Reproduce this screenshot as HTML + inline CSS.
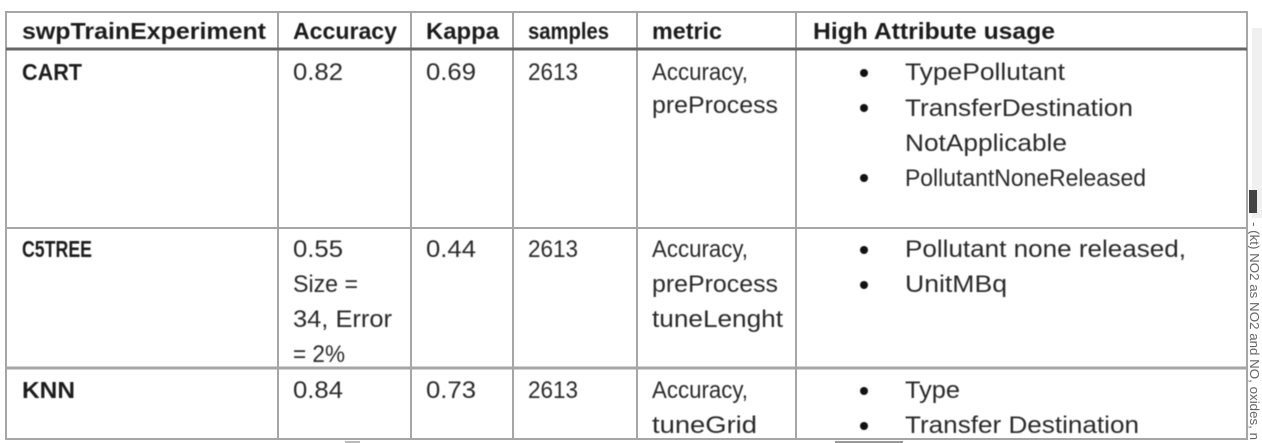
<!DOCTYPE html>
<html lang="en">
<head>
<meta charset="utf-8">
<title>swpTrainExperiment results table</title>
<style>
html,body{margin:0;padding:0;width:1262px;height:443px;overflow:hidden;background:#fff}
svg{display:block}
text{font-family:"Liberation Sans",sans-serif;font-size:24px;fill:#2a2a2a}
.b{font-weight:bold;font-size:23px;fill:#1c1c1c}
.g line{stroke:#a6a6a6;stroke-width:2}
.soft{filter:blur(.4px)}
</style>
</head>
<body>
<svg width="1262" height="443" viewBox="0 0 1262 443" xmlns="http://www.w3.org/2000/svg">
<rect x="1252" y="28" width="10" height="190" fill="#f0f0f0"/>
<rect x="1249" y="190" width="8" height="23" fill="#444"/>
<text transform="translate(1250,222) rotate(90)" textLength="218" lengthAdjust="spacingAndGlyphs" style="font-size:13px;fill:#666">- (kt) NO2 as NO2 and NO, oxides, n</text>
<rect x="345" y="441" width="15" height="2" fill="#bbb"/>
<rect x="835" y="441" width="68" height="2" fill="#999"/>

<g class="g">
<rect x="6" y="12" width="1241" height="427" fill="#fff" stroke="#a6a6a6" stroke-width="2"/>
<line x1="278" y1="12" x2="278" y2="439"/>
<line x1="411" y1="12" x2="411" y2="439"/>
<line x1="513" y1="12" x2="513" y2="439"/>
<line x1="637" y1="12" x2="637" y2="439"/>
<line x1="796" y1="12" x2="796" y2="439"/>
<line x1="6" y1="49" x2="1247" y2="49" style="stroke:#666;stroke-width:3"/>
<line x1="6" y1="228" x2="1247" y2="228"/>
<line x1="6" y1="368" x2="1247" y2="368" style="stroke-width:3"/>
</g>

<g class="soft">
<g>
<text class="b" x="22" y="39" textLength="244" lengthAdjust="spacingAndGlyphs">swpTrainExperiment</text>
<text class="b" x="293" y="39" textLength="104" lengthAdjust="spacingAndGlyphs">Accuracy</text>
<text class="b" x="426" y="39" textLength="73" lengthAdjust="spacingAndGlyphs">Kappa</text>
<text class="b" x="528" y="39" textLength="81" lengthAdjust="spacingAndGlyphs">samples</text>
<text class="b" x="652" y="39" textLength="70" lengthAdjust="spacingAndGlyphs">metric</text>
<text class="b" x="813" y="39" textLength="242" lengthAdjust="spacingAndGlyphs">High Attribute usage</text>
</g>

<g>
<text class="b" x="22" y="80" textLength="60" lengthAdjust="spacingAndGlyphs">CART</text>
<text x="293" y="80" textLength="50" lengthAdjust="spacingAndGlyphs">0.82</text>
<text x="426" y="80" textLength="50" lengthAdjust="spacingAndGlyphs">0.69</text>
<text x="528" y="80" textLength="50" lengthAdjust="spacingAndGlyphs">2613</text>
<text x="652" y="80" textLength="96" lengthAdjust="spacingAndGlyphs">Accuracy,</text>
<text x="652" y="113" textLength="126" lengthAdjust="spacingAndGlyphs">preProcess</text>
<circle cx="864" cy="73" r="4" fill="#111"/>
<text x="905" y="80" textLength="160" lengthAdjust="spacingAndGlyphs">TypePollutant</text>
<circle cx="864" cy="108" r="4" fill="#111"/>
<text x="905" y="116" textLength="228" lengthAdjust="spacingAndGlyphs">TransferDestination</text>
<text x="905" y="151" textLength="162" lengthAdjust="spacingAndGlyphs">NotApplicable</text>
<circle cx="864" cy="178" r="4" fill="#111"/>
<text x="905" y="186" textLength="241" lengthAdjust="spacingAndGlyphs">PollutantNoneReleased</text>
</g>

<g>
<text class="b" x="22" y="257" textLength="70" lengthAdjust="spacingAndGlyphs">C5TREE</text>
<text x="293" y="257" textLength="50" lengthAdjust="spacingAndGlyphs">0.55</text>
<text x="293" y="292" textLength="65" lengthAdjust="spacingAndGlyphs">Size =</text>
<text x="293" y="327" textLength="99" lengthAdjust="spacingAndGlyphs">34, Error</text>
<text x="293" y="362" textLength="52" lengthAdjust="spacingAndGlyphs">= 2%</text>
<text x="426" y="257" textLength="50" lengthAdjust="spacingAndGlyphs">0.44</text>
<text x="528" y="257" textLength="50" lengthAdjust="spacingAndGlyphs">2613</text>
<text x="652" y="257" textLength="96" lengthAdjust="spacingAndGlyphs">Accuracy,</text>
<text x="652" y="292" textLength="126" lengthAdjust="spacingAndGlyphs">preProcess</text>
<text x="652" y="327" textLength="131" lengthAdjust="spacingAndGlyphs">tuneLenght</text>
<circle cx="864" cy="250" r="4" fill="#111"/>
<text x="905" y="257" textLength="281" lengthAdjust="spacingAndGlyphs">Pollutant none released,</text>
<circle cx="864" cy="285" r="4" fill="#111"/>
<text x="905" y="292" textLength="102" lengthAdjust="spacingAndGlyphs">UnitMBq</text>
</g>

<g>
<text class="b" x="22" y="398" textLength="53" lengthAdjust="spacingAndGlyphs">KNN</text>
<text x="293" y="398" textLength="50" lengthAdjust="spacingAndGlyphs">0.84</text>
<text x="426" y="398" textLength="50" lengthAdjust="spacingAndGlyphs">0.73</text>
<text x="528" y="398" textLength="50" lengthAdjust="spacingAndGlyphs">2613</text>
<text x="652" y="398" textLength="96" lengthAdjust="spacingAndGlyphs">Accuracy,</text>
<text x="652" y="433" textLength="105" lengthAdjust="spacingAndGlyphs">tuneGrid</text>
<circle cx="864" cy="391" r="4" fill="#111"/>
<text x="905" y="398" textLength="55" lengthAdjust="spacingAndGlyphs">Type</text>
<circle cx="864" cy="426" r="4" fill="#111"/>
<text x="905" y="433" textLength="234" lengthAdjust="spacingAndGlyphs">Transfer Destination</text>
</g>
</g>
</svg>
</body>
</html>
